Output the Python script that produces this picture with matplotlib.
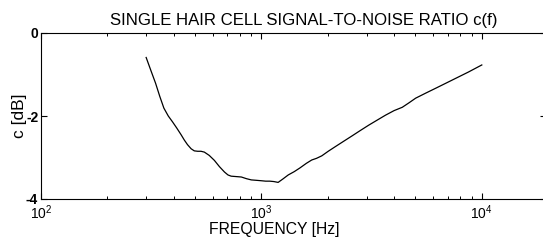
import matplotlib
matplotlib.use("Agg")
import matplotlib.pyplot as plt
import numpy as np

plt.rcParams['font.family'] = ['Liberation Sans', 'DejaVu Sans']
plt.rcParams['mathtext.fontset'] = 'custom'
plt.rcParams['mathtext.rm'] = 'Liberation Sans'

freq_hz = [300, 316, 331, 346, 361, 378, 395, 413, 432, 447, 462, 480, 496, 514,
           532, 551, 580, 612, 645, 680, 705, 729, 770, 811, 855, 900, 950,
           1000, 1045, 1091, 1140, 1191, 1250, 1324, 1410, 1497, 1600, 1692,
           1779, 1879, 2010, 2162, 2360, 2577, 2810, 3070, 3350, 3657, 4000,
           4357, 4680, 5012, 5560, 6184, 6870, 7630, 8700, 10000]
c_db = [-0.59, -0.92, -1.21, -1.53, -1.81, -2.00, -2.14, -2.29, -2.45, -2.58,
        -2.69, -2.79, -2.84, -2.85, -2.85, -2.87, -2.95, -3.07, -3.22, -3.35,
        -3.42, -3.45, -3.46, -3.47, -3.51, -3.54, -3.55, -3.56, -3.57, -3.57,
        -3.58, -3.60, -3.52, -3.42, -3.34, -3.25, -3.14, -3.06, -3.02, -2.96,
        -2.85, -2.74, -2.61, -2.48, -2.35, -2.22, -2.10, -1.98, -1.87, -1.79,
        -1.68, -1.57, -1.45, -1.33, -1.21, -1.09, -0.94, -0.77]

title = "SINGLE HAIR CELL SIGNAL-TO-NOISE RATIO c(f)"
xlabel = "FREQUENCY [Hz]"
ylabel = "c [dB]"
yticks = [0, -2, -4]

fig = plt.figure(figsize=(5.43, 2.42), dpi=100)
left = 41/543
right = 1.005
ax = fig.add_axes([left, 1-199/242, right-left, (199-33)/242])
ax.plot(freq_hz, c_db, color='black', lw=0.9)
ax.set_xscale('log')
ax.set_xlim(100, 10**4.29)
ax.set_ylim(-4, 0)
ax.set_yticks(yticks)
ax.set_yticklabels([str(v) for v in yticks])
ax.spines['right'].set_visible(False)
ax.tick_params(axis='both', which='both', direction='in', top=True, right=True,
               labelsize=10)
ax.tick_params(which='major', length=4, width=0.8)
ax.tick_params(which='minor', length=2.5, width=0.7)
ax.tick_params(axis='y', pad=2)
for lab in ax.get_yticklabels():
    lab.set_fontweight('bold')
axw = (right-left)*543
ax.set_title(title, fontsize=12.1, pad=6, x=(304-41)/axw)
ax.set_xlabel(xlabel, fontsize=11.3, labelpad=0)
ax.xaxis.label.set_position(((274-41)/axw, 0))
ax.set_ylabel(ylabel, fontsize=12.5, labelpad=-1)
fig.savefig("out.png", dpi=100)
